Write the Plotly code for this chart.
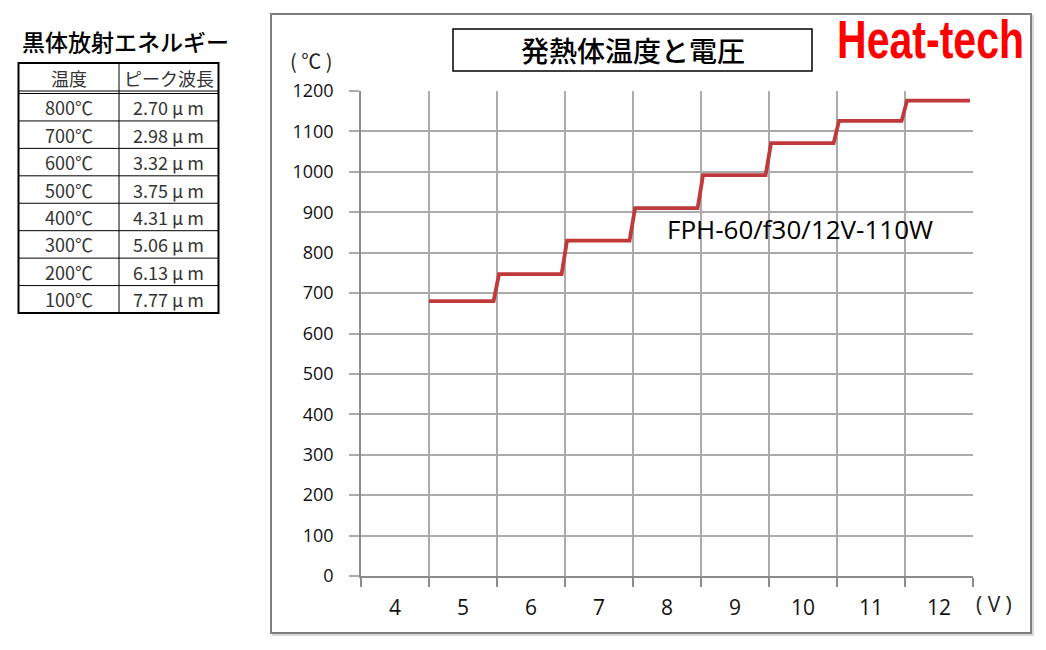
import plotly.graph_objects as go

# ---- data ----
voltages = [4, 5, 6, 7, 8, 9, 10, 11, 12]            # x categories (V)
step_volts = [5, 6, 7, 8, 9, 10, 11, 12]             # voltages with a measured temperature
step_temps = [680, 747, 830, 910, 992, 1071, 1126, 1176]  # element temperature (°C)
y_ticks = list(range(0, 1201, 100))

table_temps = ["800℃", "700℃", "600℃", "500℃", "400℃", "300℃", "200℃", "100℃"]
table_waves = ["2.70 μ m", "2.98 μ m", "3.32 μ m", "3.75 μ m", "4.31 μ m", "5.06 μ m", "6.13 μ m", "7.77 μ m"]
table_header = ["温度", "ピーク波長"]

chart_title = "発熱体温度と電圧"
table_title = "黒体放射エネルギー"
model_label = "FPH-60/f30/12V-110W"
brand = "Heat-tech"

# ---- geometry (pixel layout) ----
W, H = 1046, 650
PL, PR, PT, PB = 361, 973, 91, 576


def px(x):
    return (x - PL) / (PR - PL)


def py(y):
    return (PB - y) / (PB - PT)


# build the step line from the data
xs, ys = [], []
for i, (v, t) in enumerate(zip(step_volts, step_temps)):
    start = v - 0.5 if i == 0 else v - 0.47
    xs.append(start)
    ys.append(t)
    end = v + 0.45 if i < len(step_volts) - 1 else v + 0.455
    xs.append(end)
    ys.append(t)

fig = go.Figure()
fig.add_trace(go.Scatter(x=xs, y=ys, mode="lines",
                         line=dict(color="#c0393b", width=3.8),
                         hoverinfo="skip", showlegend=False))

grid_c = "#ababab"
axis_c = "#8c8c8c"

fig.update_layout(
    width=W, height=H,
    margin=dict(l=PL, r=W - PR, t=PT, b=H - PB, pad=0),
    paper_bgcolor="white", plot_bgcolor="white",
    showlegend=False,
    xaxis=dict(range=[3.5, 12.5], tickmode="array", tickvals=voltages,
               ticktext=[str(v) for v in voltages], showgrid=False,
               ticks="", tickfont=dict(family="Open Sans, sans-serif", size=21, color="#111111"),
               ticklabelstandoff=12,
               showline=True, linecolor=axis_c, linewidth=1.5,
               zeroline=False, fixedrange=True,
               minor=dict(tickvals=[v + 0.5 for v in [3] + voltages],
                          showgrid=True, gridcolor=grid_c, gridwidth=1.5,
                          ticks="outside", ticklen=9, tickcolor=axis_c, tickwidth=1.5)),
    yaxis=dict(range=[0, 1200], tickmode="array", tickvals=y_ticks,
               showgrid=True, gridcolor=grid_c, gridwidth=1.5,
               ticks="outside", ticklen=10, tickcolor=grid_c, tickwidth=1.5,
               tickfont=dict(family="Open Sans, sans-serif", size=18, color="#111111"),
               ticklabelstandoff=12,
               showline=True, linecolor=axis_c, linewidth=1.5,
               zeroline=False, fixedrange=True),
)

shapes = []
annots = []

# outer chart frame
shapes.append(dict(type="rect", xref="paper", yref="paper",
                   x0=px(273), x1=px(1033), y0=py(16), y1=py(635),
                   line=dict(color="#d9d9d9", width=2), layer="below"))
shapes.append(dict(type="rect", xref="paper", yref="paper",
                   x0=px(271), x1=px(1031), y0=py(14), y1=py(633),
                   line=dict(color="#7f7f7f", width=2), fillcolor="white", layer="below"))

# title box
shapes.append(dict(type="rect", xref="paper", yref="paper",
                   x0=px(453), x1=px(812), y0=py(29), y1=py(71),
                   line=dict(color="black", width=1.5)))
annots.append(dict(text=chart_title, xref="paper", yref="paper",
                   x=px(633), y=py(50), showarrow=False, xanchor="center", yanchor="middle",
                   font=dict(family="Noto Sans CJK JP", size=28, color="black", weight=500)))

# brand
annots.append(dict(text=brand, xref="paper", yref="paper",
                   x=px(1026), y=py(39), showarrow=False, xanchor="right", yanchor="middle",
                   font=dict(family="Liberation Sans, Arial, sans-serif",
                             size=54, color="#ff0000", weight="bold")))

# axis units
annots.append(dict(text="( ℃ )", xref="paper", yref="paper",
                   x=px(311), y=py(60), showarrow=False, xanchor="center", yanchor="middle",
                   font=dict(family="Noto Sans CJK JP", size=20, color="#222222")))
annots.append(dict(text="( V )", xref="paper", yref="paper",
                   x=px(994), y=py(604), showarrow=False, xanchor="center", yanchor="middle",
                   font=dict(family="Open Sans, sans-serif", size=21, color="#222222")))

# model label
annots.append(dict(text=model_label, xref="paper", yref="paper",
                   x=px(800), y=py(229), showarrow=False, xanchor="center", yanchor="middle",
                   font=dict(family="Open Sans, sans-serif", size=26, color="black")))

# ---- left table ----
TX0, TX1, TXM = 18.5, 218.5, 119
TY0, THB = 63, 91
row_top = 93.5
row_h = (313 - row_top) / len(table_temps)
TY1 = row_top + row_h * len(table_temps)

annots.append(dict(text=table_title, xref="paper", yref="paper",
                   x=px(126), y=py(41), showarrow=False, xanchor="center", yanchor="middle",
                   font=dict(family="Noto Sans CJK JP", size=23, color="black", weight=500)))
shapes.append(dict(type="rect", xref="paper", yref="paper",
                   x0=px(TX0), x1=px(TX1), y0=py(TY0), y1=py(TY1),
                   line=dict(color="black", width=2)))
shapes.append(dict(type="line", xref="paper", yref="paper",
                   x0=px(TXM), x1=px(TXM), y0=py(TY0), y1=py(TY1),
                   line=dict(color="black", width=1)))
for yy in (THB, THB + 2.5):
    shapes.append(dict(type="line", xref="paper", yref="paper",
                       x0=px(TX0), x1=px(TX1), y0=py(yy), y1=py(yy),
                       line=dict(color="black", width=1)))
for i in range(1, len(table_temps)):
    yy = row_top + row_h * i
    shapes.append(dict(type="line", xref="paper", yref="paper",
                       x0=px(TX0), x1=px(TX1), y0=py(yy), y1=py(yy),
                       line=dict(color="black", width=1)))

cellfont = dict(family="Noto Sans CJK JP", size=18, color="#333333")
annots.append(dict(text=table_header[0], xref="paper", yref="paper",
                   x=px((TX0 + TXM) / 2), y=py((TY0 + THB) / 2 + 1), showarrow=False,
                   xanchor="center", yanchor="middle", font=cellfont))
annots.append(dict(text=table_header[1], xref="paper", yref="paper",
                   x=px((TXM + TX1) / 2), y=py((TY0 + THB) / 2 + 1), showarrow=False,
                   xanchor="center", yanchor="middle", font=cellfont))
for i, (t, w) in enumerate(zip(table_temps, table_waves)):
    yc = row_top + row_h * (i + 0.5)
    annots.append(dict(text=t, xref="paper", yref="paper",
                       x=px((TX0 + TXM) / 2), y=py(yc), showarrow=False,
                       xanchor="center", yanchor="middle", font=cellfont))
    annots.append(dict(text=w, xref="paper", yref="paper",
                       x=px((TXM + TX1) / 2), y=py(yc), showarrow=False,
                       xanchor="center", yanchor="middle", font=cellfont))

fig.update_layout(shapes=shapes, annotations=annots)

# condense the brand text horizontally (like a narrow bold face), anchored at its right edge
post = """
var gd = document.getElementById('{plot_id}');
gd.querySelectorAll('text.annotation-text').forEach(function(t){
  if (t.textContent === 'Heat-tech') {
    var b = t.getBBox();
    var r = b.x + b.width;
    t.setAttribute('transform', 'translate(' + r + ',0) scale(0.76,1) translate(' + (-r) + ',0)');
  }
});
document.body.style.margin = '0';
"""
fig.write_html("out.html", config={"displayModeBar": False}, post_script=post)
